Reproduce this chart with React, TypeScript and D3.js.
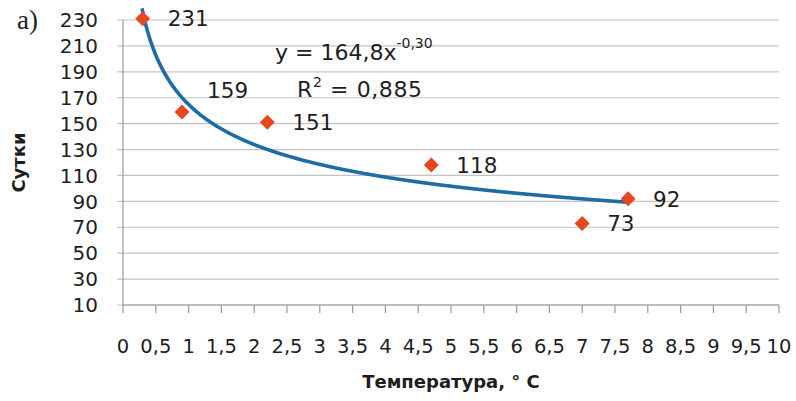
import * as d3 from 'd3'

// измерения: температура и продолжительность (сутки)
const temps = [0.3, 0.9, 2.2, 4.7, 7.0, 7.7]
const days = [231, 159, 151, 118, 73, 92]

// степенной тренд y = a * x^b (из подписи на графике)
const trendA = 164.8
const trendB = -0.3
const trendText = 'y = 164,8x'
const trendPow = '-0,30'
const r2Text = '0,885'

const xTicks = d3.range(0, 10.01, 0.5)
const yTicks = d3.range(10, 231, 20)

const fmt = (v: number) => String(v).replace('.', ',')

const W = 796
const H = 401
const margin = { top: 20, right: 17, bottom: 96, left: 123 }

export default function App() {
  const x = d3
    .scaleLinear()
    .domain([0, 10])
    .range([margin.left, W - margin.right])
  const y = d3
    .scaleLinear()
    .domain([10, 230])
    .range([H - margin.bottom, margin.top])

  const xs = d3.range(temps[0] - 0.01, temps[temps.length - 1] + 0.001, 0.02)
  const trend = d3
    .line<number>()
    .x((d) => x(d))
    .y((d) => y(trendA * Math.pow(d, trendB)))
    .curve(d3.curveMonotoneX)(xs)

  const font = 'DejaVu Sans, sans-serif'
  const ink = '#1e1e1e'
  const y0 = y(10)

  return (
    <svg
      width={W}
      height={H}
      style={{ position: 'absolute', left: 0, top: 0, background: '#fff' }}
    >
      {/* сетка */}
      {yTicks.map((t) => (
        <g key={'gy' + t}>
          <line x1={x(0) - 6} x2={x(10)} y1={y(t)} y2={y(t)} stroke="#c4c4c4" strokeWidth={1.2} />
          <text x={98} y={y(t)} dy="0.36em" textAnchor="end" fontFamily={font} fontSize={20} fill={ink}>
            {t}
          </text>
        </g>
      ))}
      <line x1={x(0)} x2={x(0)} y1={y(230)} y2={y0} stroke="#9a9a9a" strokeWidth={1.2} />
      <line x1={x(0)} x2={x(10)} y1={y0} y2={y0} stroke="#9a9a9a" strokeWidth={1.2} />
      {xTicks.map((t) => (
        <g key={'gx' + t}>
          <line x1={x(t)} x2={x(t)} y1={y0} y2={y0 + 8} stroke="#9a9a9a" strokeWidth={1.2} />
          <text x={x(t)} y={353} textAnchor="middle" fontFamily={font} fontSize={19.5} fill={ink}>
            {fmt(t)}
          </text>
        </g>
      ))}

      {/* линия тренда */}
      <path d={trend || ''} fill="none" stroke="#1d6ca6" strokeWidth={3.6} />

      {/* точки */}
      {temps.map((t, i) => {
        const cx = x(t)
        const cy = y(days[i])
        const r = 7.5
        // подпись 159 у Excel сдвинута вверх
        const dy = days[i] === 159 ? -22 : 0
        return (
          <g key={'p' + i}>
            <path
              d={`M${cx},${cy - r}L${cx + r},${cy}L${cx},${cy + r}L${cx - r},${cy}Z`}
              fill="#e8461e"
            />
            <text x={cx + 25} y={cy + dy} dy="0.36em" fontFamily={font} fontSize={21.5} fill={ink}>
              {days[i]}
            </text>
          </g>
        )
      })}

      {/* уравнение тренда */}
      <text x={275} y={60} fontFamily={font} fontSize={22} fill={ink}>
        {trendText}
        <tspan fontSize={14} dy={-12}>
          {trendPow}
        </tspan>
      </text>
      <text x={297} y={97} fontFamily={font} fontSize={22} letterSpacing={0.6} fill={ink}>
        R<tspan fontSize={14} dy={-10}>2</tspan>
        <tspan dy={10}>{' = ' + r2Text}</tspan>
      </text>

      {/* подписи осей */}
      <text x={17} y={29} fontFamily="Liberation Serif, serif" fontSize={27} fill={ink}>
        a)
      </text>
      <text
        transform={`translate(25,${(y(230) + y0) / 2}) rotate(-90)`}
        textAnchor="middle"
        fontFamily={font}
        fontWeight="bold"
        fontSize={18}
        fill={ink}
      >
        Сутки
      </text>
      <text x={(x(0) + x(10)) / 2} y={388} textAnchor="middle" fontFamily={font} fontWeight="bold" fontSize={18} fill={ink}>
        Температура, ° С
      </text>
    </svg>
  )
}
